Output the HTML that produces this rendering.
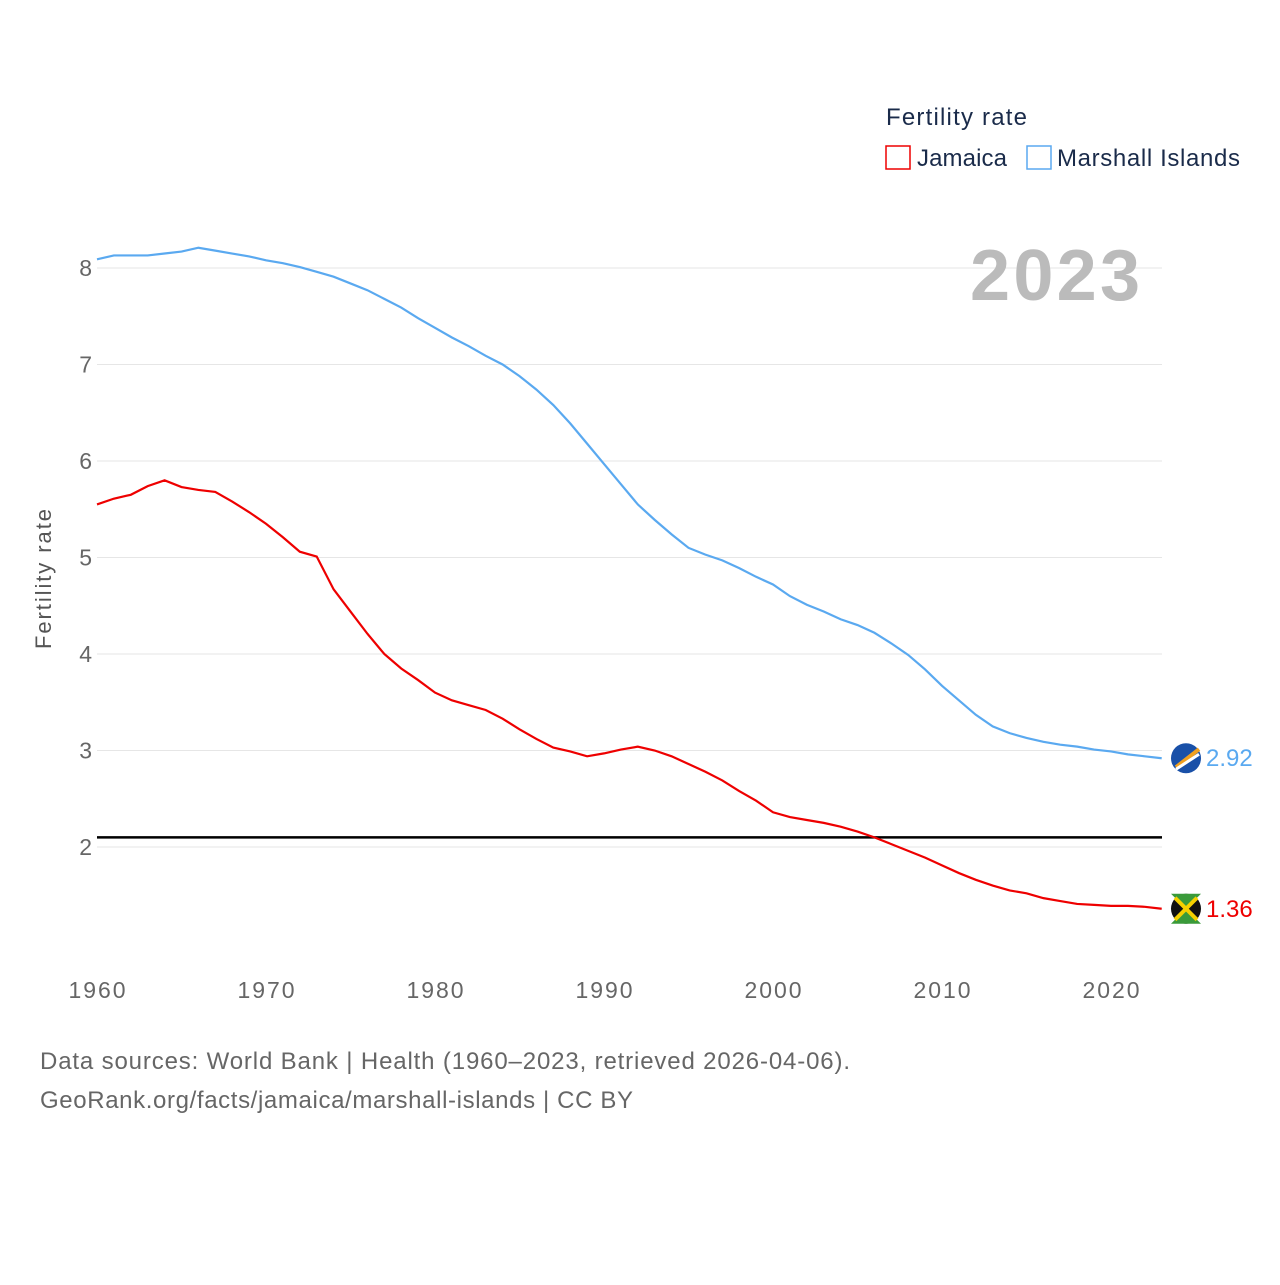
<!DOCTYPE html>
<html><head><meta charset="utf-8"><style>
body{margin:0;background:#fff;width:1280px;height:1280px;overflow:hidden;font-family:"Liberation Sans",sans-serif}
</style></head><body>
<svg width="1280" height="1280" font-family="Liberation Sans, sans-serif">
<defs><clipPath id="jc"><circle cx="1186" cy="909" r="15"/></clipPath></defs>
<g id="grid"></g>
<g id="lines"></g>
<text x="886" y="125" font-size="24" fill="#1a2b4a" textLength="141">Fertility rate</text>
<rect x="886" y="146" width="24" height="23" fill="none" stroke="#e00" stroke-width="1.5"/>
<text x="917" y="166" font-size="24" fill="#1a2b4a" textLength="90">Jamaica</text>
<rect x="1027" y="146" width="24" height="23" fill="none" stroke="#5aa9f0" stroke-width="1.5"/>
<text x="1057" y="166" font-size="24" fill="#1a2b4a" textLength="183">Marshall Islands</text>
<text x="970" y="300" font-size="72" font-weight="bold" fill="#bbb" textLength="170">2023</text>
<text transform="translate(51,579) rotate(-90)" font-size="22" fill="#555" text-anchor="middle" textLength="140">Fertility rate</text>
<text x="40" y="1069" font-size="24" fill="#666" textLength="810">Data sources: World Bank | Health (1960–2023, retrieved 2026-04-06).</text>
<text x="40" y="1108" font-size="24" fill="#666" textLength="593">GeoRank.org/facts/jamaica/marshall-islands | CC BY</text>
</svg>
<script>
const years=[];for(let y=1960;y<=2023;y++)years.push(y);
const jamaica=[5.55,5.61,5.65,5.74,5.80,5.73,5.70,5.68,5.58,5.47,5.35,5.21,5.06,5.01,4.67,4.44,4.21,4.00,3.85,3.73,3.60,3.52,3.47,3.42,3.33,3.22,3.12,3.03,2.99,2.94,2.97,3.01,3.04,3.00,2.94,2.86,2.78,2.69,2.58,2.48,2.36,2.31,2.28,2.25,2.21,2.16,2.10,2.03,1.96,1.89,1.81,1.73,1.66,1.60,1.55,1.52,1.47,1.44,1.41,1.40,1.39,1.39,1.38,1.36];
const marshall=[8.09,8.13,8.13,8.13,8.15,8.17,8.21,8.18,8.15,8.12,8.08,8.05,8.01,7.96,7.91,7.84,7.77,7.68,7.59,7.48,7.38,7.28,7.19,7.09,7.00,6.88,6.74,6.58,6.39,6.18,5.97,5.76,5.55,5.39,5.24,5.10,5.03,4.97,4.89,4.80,4.72,4.60,4.51,4.44,4.36,4.30,4.22,4.11,3.99,3.84,3.67,3.52,3.37,3.25,3.18,3.13,3.09,3.06,3.04,3.01,2.99,2.96,2.94,2.92];
const yTicks=[2,3,4,5,6,7,8];
const xTicks=[1960,1970,1980,1990,2000,2010,2020];
const refLine=2.1;
const X=y=>97+(y-1960)*(1014/60);
const Y=v=>847-(v-2)*96.5;
const NS='http://www.w3.org/2000/svg';
function mk(t,a,p){const e=document.createElementNS(NS,t);for(const k in a)e.setAttribute(k,a[k]);p.appendChild(e);return e;}
const g=document.getElementById('grid'),L=document.getElementById('lines');
yTicks.forEach(v=>{
 const l=mk('line',{x1:97,x2:1162,y1:Y(v),y2:Y(v),stroke:'#e6e6e6','stroke-width':1},g);
 
 
 const t=mk('text',{x:92,y:Y(v)+8,'font-size':23,fill:'#666','text-anchor':'end'},g);t.textContent=v;
 
 
});
xTicks.forEach(v=>{
 const t=mk('text',{x:X(v),y:998,'font-size':23,fill:'#666','text-anchor':'middle',textLength:57},g);t.textContent=v;
 
 
});
const rl=mk('line',{x1:97,x2:1162,y1:Y(refLine),y2:Y(refLine),stroke:'#000','stroke-width':2.5},L);


function series(d,c,name,flag,isJam){
 const p=mk('polyline',{points:d.map((v,i)=>X(years[i])+','+Y(v)).join(' '),fill:'none',stroke:c,'stroke-width':2.2},L);
 
 
 const last=d[d.length-1],cy=Y(last);
 const ci=mk('circle',{cx:1186,cy:cy,r:15,fill:flag},L);
 
 
 if(isJam){
  mk('polygon',{points:`1171,${cy-15} 1201,${cy-15} 1186,${cy}`,fill:'#3a9a3a'},L);
  mk('polygon',{points:`1171,${cy+15} 1201,${cy+15} 1186,${cy}`,fill:'#3a9a3a'},L);
  mk('line',{x1:1175,y1:cy-11,x2:1197,y2:cy+11,stroke:'#f5d000','stroke-width':4},L);
  mk('line',{x1:1197,y1:cy-11,x2:1175,y2:cy+11,stroke:'#f5d000','stroke-width':4},L);
 } else {
  mk('line',{x1:1176,y1:cy+9,x2:1199,y2:cy-9,stroke:'#f0a020','stroke-width':4},L);
  mk('line',{x1:1176,y1:cy+11,x2:1199,y2:cy-4,stroke:'#fff','stroke-width':3},L);
 }
 const t=mk('text',{x:1206,y:cy+8,'font-size':24,fill:c},L);t.textContent=last.toFixed(2);
 
 
}
series(marshall,'#5aa9f0','marshall-islands','#1950a8',false);
series(jamaica,'#e00','jamaica','#111',true);
</script>
</body></html>
